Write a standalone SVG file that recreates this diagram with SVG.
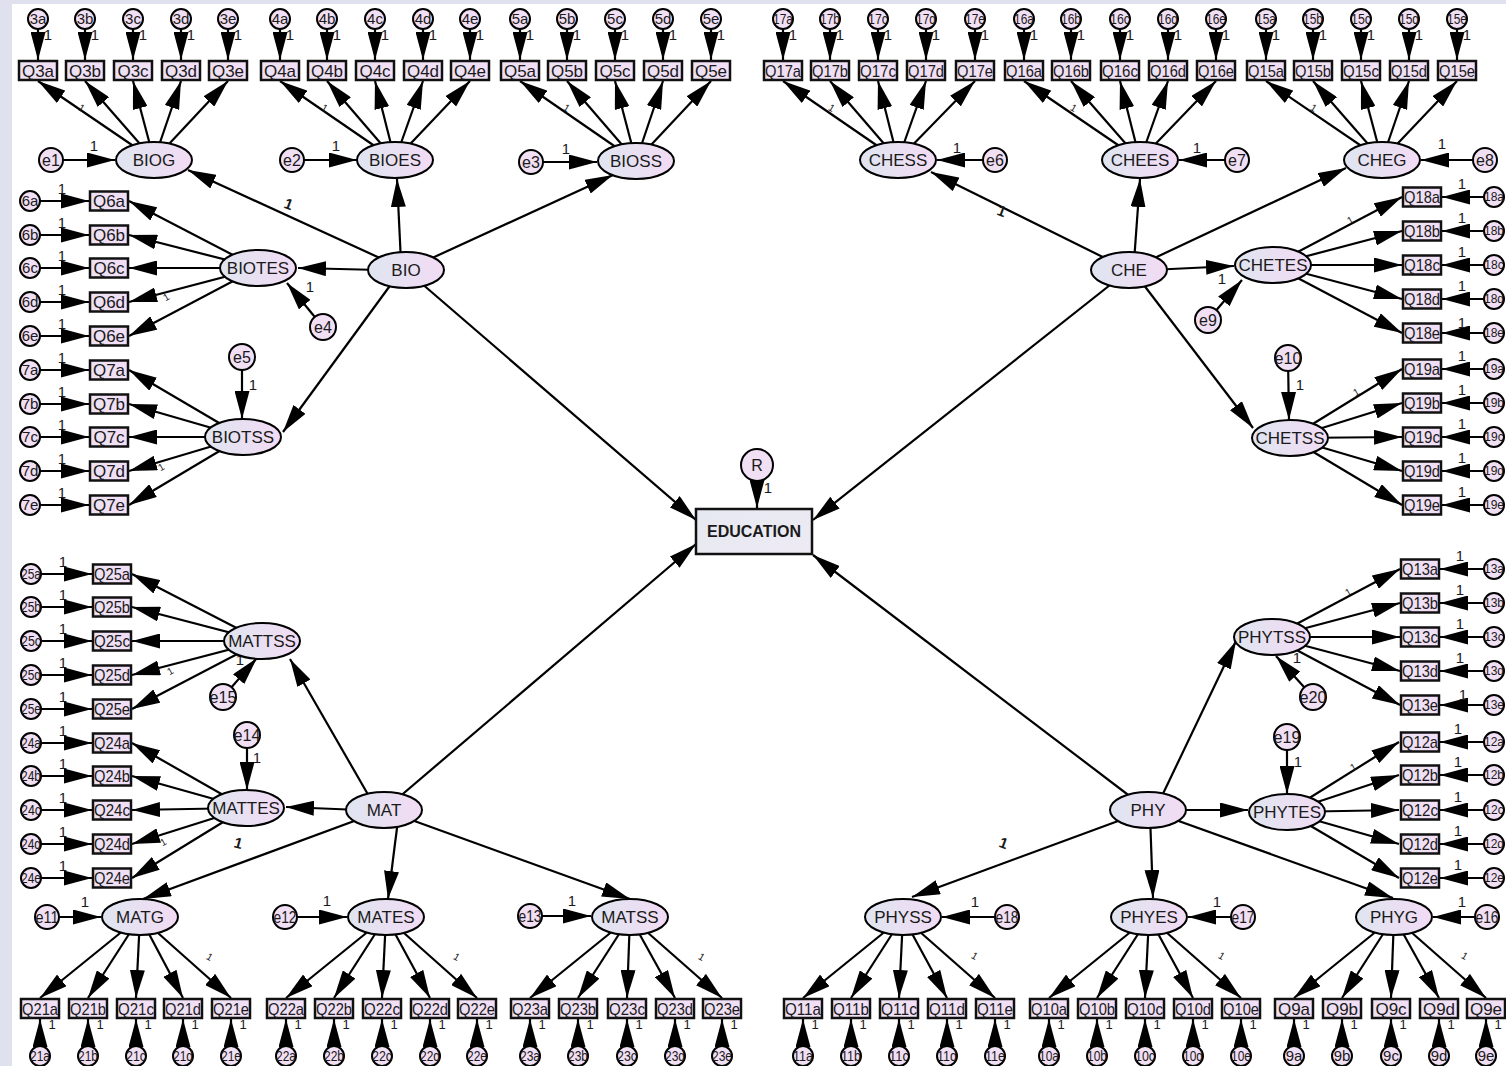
<svg xmlns="http://www.w3.org/2000/svg" width="1506" height="1066" viewBox="0 0 1506 1066">
<defs>
<linearGradient id="gl" x1="0" y1="0" x2="1" y2="0"><stop offset="0" stop-color="#dfe5f0"/><stop offset="1" stop-color="#f2dbf4"/></linearGradient>
<linearGradient id="gb" x1="0" y1="0" x2="1" y2="0"><stop offset="0" stop-color="#ece2f2"/><stop offset="1" stop-color="#f3def6"/></linearGradient>
<linearGradient id="gE" x1="0" y1="0" x2="1" y2="1"><stop offset="0" stop-color="#e6e9f1"/><stop offset="1" stop-color="#eeeaf4"/></linearGradient>
<marker id="ah" markerUnits="userSpaceOnUse" markerWidth="28" markerHeight="15" viewBox="0 0 28 15" refX="28" refY="7.5" orient="auto"><path d="M0,0L28,7.5L0,15z" fill="#000"/></marker>
</defs>
<style>
.conn line{stroke:#000;stroke-width:2.2;marker-end:url(#ah)}
.lv{fill:url(#gl);stroke:#000;stroke-width:2}
.ob{fill:url(#gb);stroke:#111;stroke-width:2.5}
.er{fill:#f1dff4;stroke:#000;stroke-width:2}
text{font-family:"Liberation Sans",Arial,sans-serif;fill:#1a1a1a}
.lt{font-size:17px;text-anchor:middle}
.bt{font-size:17px;text-anchor:middle}
.et{font-size:15px;text-anchor:middle}
.er12{font-size:12px;text-anchor:middle}
.ee{font-size:16px;text-anchor:middle}
.wm{font-size:15px;text-anchor:middle}
.ws{font-size:13px;text-anchor:middle}
.sw{font-size:10px;text-anchor:middle}
.bw{font-size:15px;font-weight:bold;text-anchor:middle}
</style>
<rect x="0" y="0" width="1506" height="1066" fill="#fff"/>
<rect x="0" y="0" width="12" height="1066" fill="#dfe1ee"/>
<rect x="0" y="0" width="1506" height="4" fill="#dfe1ee"/>

<g id="connectors" class="conn">
<line x1="406" y1="270" x2="696" y2="520"/>
<line x1="1129" y1="270" x2="813" y2="520"/>
<line x1="384" y1="810" x2="696" y2="544"/>
<line x1="1148" y1="810" x2="813" y2="555"/>
<line x1="757" y1="465" x2="757" y2="508"/>
<line x1="406" y1="270" x2="188" y2="170"/>
<line x1="401" y1="262" x2="397" y2="179"/>
<line x1="406" y1="270" x2="613" y2="175"/>
<line x1="380" y1="270" x2="298" y2="268"/>
<line x1="400" y1="272" x2="283" y2="432"/>
<line x1="51" y1="160" x2="115" y2="160"/>
<line x1="292" y1="160" x2="357" y2="160"/>
<line x1="531" y1="162" x2="597" y2="162"/>
<line x1="323" y1="327" x2="287" y2="283"/>
<line x1="242" y1="357" x2="242" y2="419"/>
<line x1="154" y1="160" x2="38" y2="81"/>
<line x1="154" y1="160" x2="85" y2="81"/>
<line x1="154" y1="160" x2="133" y2="81"/>
<line x1="154" y1="160" x2="181" y2="81"/>
<line x1="154" y1="160" x2="228" y2="81"/>
<line x1="395" y1="160" x2="280" y2="81"/>
<line x1="395" y1="160" x2="327" y2="81"/>
<line x1="395" y1="160" x2="375" y2="81"/>
<line x1="395" y1="160" x2="423" y2="81"/>
<line x1="395" y1="160" x2="470" y2="81"/>
<line x1="636" y1="161" x2="520" y2="81"/>
<line x1="636" y1="161" x2="567" y2="81"/>
<line x1="636" y1="161" x2="615" y2="81"/>
<line x1="636" y1="161" x2="663" y2="81"/>
<line x1="636" y1="161" x2="711" y2="81"/>
<line x1="258" y1="268" x2="129" y2="201"/>
<line x1="258" y1="268" x2="129" y2="235"/>
<line x1="258" y1="268" x2="129" y2="268"/>
<line x1="258" y1="268" x2="129" y2="302"/>
<line x1="258" y1="268" x2="129" y2="336"/>
<line x1="243" y1="437" x2="129" y2="370"/>
<line x1="243" y1="437" x2="129" y2="404"/>
<line x1="243" y1="437" x2="129" y2="437"/>
<line x1="243" y1="437" x2="129" y2="471"/>
<line x1="243" y1="437" x2="129" y2="505"/>
<line x1="1129" y1="270" x2="931" y2="172"/>
<line x1="1134" y1="262" x2="1140" y2="179"/>
<line x1="1129" y1="270" x2="1346" y2="168"/>
<line x1="1150" y1="270" x2="1234" y2="266"/>
<line x1="1140" y1="280" x2="1253" y2="428"/>
<line x1="995" y1="160" x2="937" y2="160"/>
<line x1="1237" y1="160" x2="1179" y2="160"/>
<line x1="1485" y1="160" x2="1421" y2="160"/>
<line x1="1208" y1="320" x2="1242" y2="280"/>
<line x1="1288" y1="358" x2="1289" y2="420"/>
<line x1="898" y1="160" x2="783" y2="81"/>
<line x1="898" y1="160" x2="830" y2="81"/>
<line x1="898" y1="160" x2="878" y2="81"/>
<line x1="898" y1="160" x2="926" y2="81"/>
<line x1="898" y1="160" x2="975" y2="81"/>
<line x1="1140" y1="160" x2="1024" y2="81"/>
<line x1="1140" y1="160" x2="1071" y2="81"/>
<line x1="1140" y1="160" x2="1120" y2="81"/>
<line x1="1140" y1="160" x2="1168" y2="81"/>
<line x1="1140" y1="160" x2="1216" y2="81"/>
<line x1="1382" y1="160" x2="1266" y2="81"/>
<line x1="1382" y1="160" x2="1313" y2="81"/>
<line x1="1382" y1="160" x2="1361" y2="81"/>
<line x1="1382" y1="160" x2="1409" y2="81"/>
<line x1="1382" y1="160" x2="1457" y2="81"/>
<line x1="1273" y1="265" x2="1402" y2="197"/>
<line x1="1273" y1="265" x2="1402" y2="231"/>
<line x1="1273" y1="265" x2="1402" y2="265"/>
<line x1="1273" y1="265" x2="1402" y2="299"/>
<line x1="1273" y1="265" x2="1402" y2="333"/>
<line x1="1290" y1="438" x2="1402" y2="369"/>
<line x1="1290" y1="438" x2="1402" y2="403"/>
<line x1="1290" y1="438" x2="1402" y2="437"/>
<line x1="1290" y1="438" x2="1402" y2="471"/>
<line x1="1290" y1="438" x2="1402" y2="505"/>
<line x1="370" y1="798" x2="290" y2="659"/>
<line x1="360" y1="810" x2="286" y2="807"/>
<line x1="384" y1="810" x2="143" y2="899"/>
<line x1="398" y1="820" x2="388" y2="899"/>
<line x1="384" y1="810" x2="630" y2="899"/>
<line x1="223" y1="697" x2="257" y2="658"/>
<line x1="247" y1="735" x2="247" y2="790"/>
<line x1="47" y1="917" x2="101" y2="917"/>
<line x1="285" y1="917" x2="347" y2="917"/>
<line x1="530" y1="916" x2="591" y2="916"/>
<line x1="262" y1="641" x2="132" y2="574"/>
<line x1="262" y1="641" x2="132" y2="607"/>
<line x1="262" y1="641" x2="132" y2="641"/>
<line x1="262" y1="641" x2="132" y2="675"/>
<line x1="262" y1="641" x2="132" y2="709"/>
<line x1="246" y1="808" x2="132" y2="743"/>
<line x1="246" y1="808" x2="132" y2="776"/>
<line x1="246" y1="808" x2="132" y2="810"/>
<line x1="246" y1="808" x2="132" y2="844"/>
<line x1="246" y1="808" x2="132" y2="878"/>
<line x1="140" y1="917" x2="40" y2="998"/>
<line x1="140" y1="917" x2="88" y2="998"/>
<line x1="140" y1="917" x2="136" y2="998"/>
<line x1="140" y1="917" x2="183" y2="998"/>
<line x1="140" y1="917" x2="231" y2="998"/>
<line x1="386" y1="917" x2="286" y2="998"/>
<line x1="386" y1="917" x2="334" y2="998"/>
<line x1="386" y1="917" x2="382" y2="998"/>
<line x1="386" y1="917" x2="430" y2="998"/>
<line x1="386" y1="917" x2="477" y2="998"/>
<line x1="630" y1="917" x2="530" y2="998"/>
<line x1="630" y1="917" x2="578" y2="998"/>
<line x1="630" y1="917" x2="627" y2="998"/>
<line x1="630" y1="917" x2="675" y2="998"/>
<line x1="630" y1="917" x2="722" y2="998"/>
<line x1="1160" y1="800" x2="1236" y2="641"/>
<line x1="1170" y1="810" x2="1248" y2="810"/>
<line x1="1148" y1="810" x2="912" y2="897"/>
<line x1="1150" y1="815" x2="1153" y2="898"/>
<line x1="1148" y1="810" x2="1393" y2="898"/>
<line x1="1313" y1="697" x2="1276" y2="656"/>
<line x1="1287" y1="737" x2="1287" y2="794"/>
<line x1="1007" y1="917" x2="942" y2="917"/>
<line x1="1243" y1="917" x2="1188" y2="917"/>
<line x1="1487" y1="917" x2="1433" y2="917"/>
<line x1="1272" y1="637" x2="1400" y2="569"/>
<line x1="1272" y1="637" x2="1400" y2="603"/>
<line x1="1272" y1="637" x2="1400" y2="637"/>
<line x1="1272" y1="637" x2="1400" y2="671"/>
<line x1="1272" y1="637" x2="1400" y2="705"/>
<line x1="1287" y1="812" x2="1399" y2="742"/>
<line x1="1287" y1="812" x2="1399" y2="775"/>
<line x1="1287" y1="812" x2="1399" y2="810"/>
<line x1="1287" y1="812" x2="1399" y2="844"/>
<line x1="1287" y1="812" x2="1399" y2="878"/>
<line x1="903" y1="917" x2="803" y2="998"/>
<line x1="903" y1="917" x2="851" y2="998"/>
<line x1="903" y1="917" x2="899" y2="998"/>
<line x1="903" y1="917" x2="947" y2="998"/>
<line x1="903" y1="917" x2="995" y2="998"/>
<line x1="1149" y1="917" x2="1049" y2="998"/>
<line x1="1149" y1="917" x2="1097" y2="998"/>
<line x1="1149" y1="917" x2="1145" y2="998"/>
<line x1="1149" y1="917" x2="1193" y2="998"/>
<line x1="1149" y1="917" x2="1241" y2="998"/>
<line x1="1394" y1="917" x2="1294" y2="998"/>
<line x1="1394" y1="917" x2="1342" y2="998"/>
<line x1="1394" y1="917" x2="1391" y2="998"/>
<line x1="1394" y1="917" x2="1439" y2="998"/>
<line x1="1394" y1="917" x2="1486" y2="998"/>
<line x1="38" y1="19" x2="38" y2="60"/><line x1="85" y1="19" x2="85" y2="60"/><line x1="133" y1="19" x2="133" y2="60"/><line x1="181" y1="19" x2="181" y2="60"/><line x1="228" y1="19" x2="228" y2="60"/>
<line x1="280" y1="19" x2="280" y2="60"/><line x1="327" y1="19" x2="327" y2="60"/><line x1="375" y1="19" x2="375" y2="60"/><line x1="423" y1="19" x2="423" y2="60"/><line x1="470" y1="19" x2="470" y2="60"/>
<line x1="520" y1="19" x2="520" y2="60"/><line x1="567" y1="19" x2="567" y2="60"/><line x1="615" y1="19" x2="615" y2="60"/><line x1="663" y1="19" x2="663" y2="60"/><line x1="711" y1="19" x2="711" y2="60"/>
<line x1="783" y1="19" x2="783" y2="60"/><line x1="830" y1="19" x2="830" y2="60"/><line x1="878" y1="19" x2="878" y2="60"/><line x1="926" y1="19" x2="926" y2="60"/><line x1="975" y1="19" x2="975" y2="60"/>
<line x1="1024" y1="19" x2="1024" y2="60"/><line x1="1071" y1="19" x2="1071" y2="60"/><line x1="1120" y1="19" x2="1120" y2="60"/><line x1="1168" y1="19" x2="1168" y2="60"/><line x1="1216" y1="19" x2="1216" y2="60"/>
<line x1="1266" y1="19" x2="1266" y2="60"/><line x1="1313" y1="19" x2="1313" y2="60"/><line x1="1361" y1="19" x2="1361" y2="60"/><line x1="1409" y1="19" x2="1409" y2="60"/><line x1="1457" y1="19" x2="1457" y2="60"/>
<line x1="40" y1="1056" x2="40" y2="1019"/><line x1="88" y1="1056" x2="88" y2="1019"/><line x1="136" y1="1056" x2="136" y2="1019"/><line x1="183" y1="1056" x2="183" y2="1019"/><line x1="231" y1="1056" x2="231" y2="1019"/>
<line x1="286" y1="1056" x2="286" y2="1019"/><line x1="334" y1="1056" x2="334" y2="1019"/><line x1="382" y1="1056" x2="382" y2="1019"/><line x1="430" y1="1056" x2="430" y2="1019"/><line x1="477" y1="1056" x2="477" y2="1019"/>
<line x1="530" y1="1056" x2="530" y2="1019"/><line x1="578" y1="1056" x2="578" y2="1019"/><line x1="627" y1="1056" x2="627" y2="1019"/><line x1="675" y1="1056" x2="675" y2="1019"/><line x1="722" y1="1056" x2="722" y2="1019"/>
<line x1="803" y1="1056" x2="803" y2="1019"/><line x1="851" y1="1056" x2="851" y2="1019"/><line x1="899" y1="1056" x2="899" y2="1019"/><line x1="947" y1="1056" x2="947" y2="1019"/><line x1="995" y1="1056" x2="995" y2="1019"/>
<line x1="1049" y1="1056" x2="1049" y2="1019"/><line x1="1097" y1="1056" x2="1097" y2="1019"/><line x1="1145" y1="1056" x2="1145" y2="1019"/><line x1="1193" y1="1056" x2="1193" y2="1019"/><line x1="1241" y1="1056" x2="1241" y2="1019"/>
<line x1="1294" y1="1056" x2="1294" y2="1019"/><line x1="1342" y1="1056" x2="1342" y2="1019"/><line x1="1391" y1="1056" x2="1391" y2="1019"/><line x1="1439" y1="1056" x2="1439" y2="1019"/><line x1="1486" y1="1056" x2="1486" y2="1019"/>
<line x1="30" y1="201" x2="89" y2="201"/><line x1="30" y1="235" x2="89" y2="235"/><line x1="30" y1="268" x2="89" y2="268"/><line x1="30" y1="302" x2="89" y2="302"/><line x1="30" y1="336" x2="89" y2="336"/>
<line x1="30" y1="370" x2="89" y2="370"/><line x1="30" y1="404" x2="89" y2="404"/><line x1="30" y1="437" x2="89" y2="437"/><line x1="30" y1="471" x2="89" y2="471"/><line x1="30" y1="505" x2="89" y2="505"/>
<line x1="31" y1="574" x2="92" y2="574"/><line x1="31" y1="607" x2="92" y2="607"/><line x1="31" y1="641" x2="92" y2="641"/><line x1="31" y1="675" x2="92" y2="675"/><line x1="31" y1="709" x2="92" y2="709"/>
<line x1="31" y1="743" x2="92" y2="743"/><line x1="31" y1="776" x2="92" y2="776"/><line x1="31" y1="810" x2="92" y2="810"/><line x1="31" y1="844" x2="92" y2="844"/><line x1="31" y1="878" x2="92" y2="878"/>
<line x1="1494" y1="197" x2="1442" y2="197"/><line x1="1494" y1="231" x2="1442" y2="231"/><line x1="1494" y1="265" x2="1442" y2="265"/><line x1="1494" y1="299" x2="1442" y2="299"/><line x1="1494" y1="333" x2="1442" y2="333"/>
<line x1="1494" y1="369" x2="1442" y2="369"/><line x1="1494" y1="403" x2="1442" y2="403"/><line x1="1494" y1="437" x2="1442" y2="437"/><line x1="1494" y1="471" x2="1442" y2="471"/><line x1="1494" y1="505" x2="1442" y2="505"/>
<line x1="1494" y1="569" x2="1440" y2="569"/><line x1="1494" y1="603" x2="1440" y2="603"/><line x1="1494" y1="637" x2="1440" y2="637"/><line x1="1494" y1="671" x2="1440" y2="671"/><line x1="1494" y1="705" x2="1440" y2="705"/>
<line x1="1494" y1="742" x2="1440" y2="742"/><line x1="1494" y1="775" x2="1440" y2="775"/><line x1="1494" y1="810" x2="1440" y2="810"/><line x1="1494" y1="844" x2="1440" y2="844"/><line x1="1494" y1="878" x2="1440" y2="878"/>
</g>

<g id="connector-labels">
<text class="wm" x="768" y="493">1</text>
<text class="wm" x="94" y="151">1</text><text class="wm" x="336" y="151">1</text><text class="wm" x="566" y="154">1</text>
<text class="wm" x="310" y="292">1</text><text class="wm" x="253" y="390">1</text>
<text class="wm" x="957" y="153">1</text><text class="wm" x="1197" y="153">1</text><text class="wm" x="1442" y="149">1</text>
<text class="wm" x="1222" y="284">1</text><text class="wm" x="1300" y="390">1</text>
<text class="wm" x="85" y="907">1</text><text class="wm" x="327" y="906">1</text><text class="wm" x="572" y="906">1</text>
<text class="wm" x="240" y="665">1</text><text class="wm" x="257" y="763">1</text>
<text class="wm" x="975" y="907">1</text><text class="wm" x="1217" y="907">1</text><text class="wm" x="1462" y="907">1</text>
<text class="wm" x="1297" y="663">1</text><text class="wm" x="1298" y="767">1</text>
<text class="bw" transform="translate(287,209) rotate(20)">1</text>
<text class="bw" transform="translate(1000,216) rotate(20)">1</text>
<text class="bw" transform="translate(237,848) rotate(15)">1</text>
<text class="bw" transform="translate(1002,848) rotate(20)">1</text>
<g class="wm">
<text x="48" y="40">1</text><text x="95" y="40">1</text><text x="143" y="40">1</text><text x="191" y="40">1</text><text x="238" y="40">1</text>
<text x="290" y="40">1</text><text x="337" y="40">1</text><text x="385" y="40">1</text><text x="433" y="40">1</text><text x="480" y="40">1</text>
<text x="530" y="40">1</text><text x="577" y="40">1</text><text x="625" y="40">1</text><text x="673" y="40">1</text><text x="721" y="40">1</text>
<text x="793" y="40">1</text><text x="840" y="40">1</text><text x="888" y="40">1</text><text x="936" y="40">1</text><text x="985" y="40">1</text>
<text x="1034" y="40">1</text><text x="1081" y="40">1</text><text x="1130" y="40">1</text><text x="1178" y="40">1</text><text x="1226" y="40">1</text>
<text x="1276" y="40">1</text><text x="1323" y="40">1</text><text x="1371" y="40">1</text><text x="1419" y="40">1</text><text x="1467" y="40">1</text>
<text x="62" y="194">1</text><text x="62" y="228">1</text><text x="62" y="261">1</text><text x="62" y="295">1</text><text x="62" y="329">1</text>
<text x="62" y="363">1</text><text x="62" y="397">1</text><text x="62" y="430">1</text><text x="62" y="464">1</text><text x="62" y="498">1</text>
<text x="63" y="567">1</text><text x="63" y="600">1</text><text x="63" y="634">1</text><text x="63" y="668">1</text><text x="63" y="702">1</text>
<text x="63" y="736">1</text><text x="63" y="769">1</text><text x="63" y="803">1</text><text x="63" y="837">1</text><text x="63" y="871">1</text>
<text x="1462" y="189">1</text><text x="1462" y="223">1</text><text x="1462" y="257">1</text><text x="1462" y="291">1</text><text x="1462" y="328">1</text>
<text x="1462" y="361">1</text><text x="1462" y="395">1</text><text x="1462" y="429">1</text><text x="1462" y="463">1</text><text x="1462" y="497">1</text>
<text x="1460" y="561">1</text><text x="1460" y="595">1</text><text x="1460" y="629">1</text><text x="1460" y="663">1</text><text x="1463" y="700">1</text>
<text x="1458" y="734">1</text><text x="1458" y="767">1</text><text x="1458" y="802">1</text><text x="1458" y="836">1</text><text x="1458" y="870">1</text>
</g>
<g class="ws">
<text x="52" y="1029">1</text><text x="100" y="1029">1</text><text x="148" y="1029">1</text><text x="195" y="1029">1</text><text x="243" y="1029">1</text>
<text x="298" y="1029">1</text><text x="346" y="1029">1</text><text x="394" y="1029">1</text><text x="442" y="1029">1</text><text x="489" y="1029">1</text>
<text x="542" y="1029">1</text><text x="590" y="1029">1</text><text x="639" y="1029">1</text><text x="687" y="1029">1</text><text x="734" y="1029">1</text>
<text x="815" y="1029">1</text><text x="863" y="1029">1</text><text x="911" y="1029">1</text><text x="959" y="1029">1</text><text x="1007" y="1029">1</text>
<text x="1061" y="1029">1</text><text x="1109" y="1029">1</text><text x="1157" y="1029">1</text><text x="1205" y="1029">1</text><text x="1253" y="1029">1</text>
<text x="1306" y="1029">1</text><text x="1354" y="1029">1</text><text x="1403" y="1029">1</text><text x="1451" y="1029">1</text><text x="1498" y="1029">1</text>
</g>
<g class="sw">
<text transform="translate(80,111) rotate(30)">1</text>
<text transform="translate(323,111) rotate(30)">1</text>
<text transform="translate(565,111) rotate(30)">1</text>
<text transform="translate(830,111) rotate(30)">1</text>
<text transform="translate(1072,111) rotate(30)">1</text>
<text transform="translate(1312,111) rotate(30)">1</text>
<text transform="translate(168,300) rotate(-30)">1</text>
<text transform="translate(163,470) rotate(-30)">1</text>
<text transform="translate(172,674) rotate(-30)">1</text>
<text transform="translate(165,845) rotate(-30)">1</text>
<text transform="translate(1352,223) rotate(-30)">1</text>
<text transform="translate(1358,395) rotate(-30)">1</text>
<text transform="translate(1350,595) rotate(-30)">1</text>
<text transform="translate(1355,770) rotate(-30)">1</text>
<text transform="translate(208,960) rotate(30)">1</text>
<text transform="translate(455,960) rotate(30)">1</text>
<text transform="translate(700,960) rotate(30)">1</text>
<text transform="translate(973,959) rotate(30)">1</text>
<text transform="translate(1220,959) rotate(30)">1</text>
<text transform="translate(1463,959) rotate(30)">1</text>
</g>
</g>

<g id="EDUCATION"><rect x="696" y="509" width="116" height="45" fill="url(#gE)" stroke="#111" stroke-width="2.5"/><text x="754" y="537" font-size="16" font-weight="bold" text-anchor="middle">EDUCATION</text></g>
<g id="R"><circle class="er" cx="757" cy="465" r="16"/><text class="ee" x="757" y="471">R</text></g>

<g id="BIO"><ellipse class="lv" cx="406" cy="270" rx="38" ry="18"/><text class="lt" x="406" y="276">BIO</text></g>
<g id="CHE"><ellipse class="lv" cx="1129" cy="270" rx="38" ry="18"/><text class="lt" x="1129" y="276">CHE</text></g>
<g id="MAT"><ellipse class="lv" cx="384" cy="810" rx="38" ry="18"/><text class="lt" x="384" y="816">MAT</text></g>
<g id="PHY"><ellipse class="lv" cx="1148" cy="810" rx="38" ry="18"/><text class="lt" x="1148" y="816">PHY</text></g>
<g id="BIOG"><ellipse class="lv" cx="154" cy="160" rx="38" ry="18"/><text class="lt" x="154" y="166">BIOG</text></g>
<g id="BIOES"><ellipse class="lv" cx="395" cy="160" rx="38" ry="18"/><text class="lt" x="395" y="166">BIOES</text></g>
<g id="BIOSS"><ellipse class="lv" cx="636" cy="161" rx="38" ry="18"/><text class="lt" x="636" y="167">BIOSS</text></g>
<g id="BIOTES"><ellipse class="lv" cx="258" cy="268" rx="38" ry="18"/><text class="lt" x="258" y="274">BIOTES</text></g>
<g id="BIOTSS"><ellipse class="lv" cx="243" cy="437" rx="38" ry="18"/><text class="lt" x="243" y="443">BIOTSS</text></g>
<g id="CHESS"><ellipse class="lv" cx="898" cy="160" rx="38" ry="18"/><text class="lt" x="898" y="166">CHESS</text></g>
<g id="CHEES"><ellipse class="lv" cx="1140" cy="160" rx="38" ry="18"/><text class="lt" x="1140" y="166">CHEES</text></g>
<g id="CHEG"><ellipse class="lv" cx="1382" cy="160" rx="38" ry="18"/><text class="lt" x="1382" y="166">CHEG</text></g>
<g id="CHETES"><ellipse class="lv" cx="1273" cy="265" rx="38" ry="18"/><text class="lt" x="1273" y="271">CHETES</text></g>
<g id="CHETSS"><ellipse class="lv" cx="1290" cy="438" rx="38" ry="18"/><text class="lt" x="1290" y="444">CHETSS</text></g>
<g id="MATTSS"><ellipse class="lv" cx="262" cy="641" rx="38" ry="18"/><text class="lt" x="262" y="647">MATTSS</text></g>
<g id="MATTES"><ellipse class="lv" cx="246" cy="808" rx="38" ry="18"/><text class="lt" x="246" y="814">MATTES</text></g>
<g id="MATG"><ellipse class="lv" cx="140" cy="917" rx="38" ry="18"/><text class="lt" x="140" y="923">MATG</text></g>
<g id="MATES"><ellipse class="lv" cx="386" cy="917" rx="38" ry="18"/><text class="lt" x="386" y="923">MATES</text></g>
<g id="MATSS"><ellipse class="lv" cx="630" cy="917" rx="38" ry="18"/><text class="lt" x="630" y="923">MATSS</text></g>
<g id="PHYTSS"><ellipse class="lv" cx="1272" cy="637" rx="38" ry="18"/><text class="lt" x="1272" y="643">PHYTSS</text></g>
<g id="PHYTES"><ellipse class="lv" cx="1287" cy="812" rx="38" ry="18"/><text class="lt" x="1287" y="818">PHYTES</text></g>
<g id="PHYSS"><ellipse class="lv" cx="903" cy="917" rx="38" ry="18"/><text class="lt" x="903" y="923">PHYSS</text></g>
<g id="PHYES"><ellipse class="lv" cx="1149" cy="917" rx="38" ry="18"/><text class="lt" x="1149" y="923">PHYES</text></g>
<g id="PHYG"><ellipse class="lv" cx="1394" cy="917" rx="38" ry="18"/><text class="lt" x="1394" y="923">PHYG</text></g>

<g id="e1"><circle class="er" cx="51" cy="160" r="12"/><text class="ee" x="51" y="166">e1</text></g>
<g id="e2"><circle class="er" cx="292" cy="160" r="12"/><text class="ee" x="292" y="166">e2</text></g>
<g id="e3"><circle class="er" cx="531" cy="162" r="12"/><text class="ee" x="531" y="168">e3</text></g>
<g id="e4"><circle class="er" cx="323" cy="327" r="13"/><text class="ee" x="323" y="333">e4</text></g>
<g id="e5"><circle class="er" cx="242" cy="357" r="13"/><text class="ee" x="242" y="363">e5</text></g>
<g id="e6"><circle class="er" cx="995" cy="160" r="12"/><text class="ee" x="995" y="166">e6</text></g>
<g id="e7"><circle class="er" cx="1237" cy="160" r="12"/><text class="ee" x="1237" y="166">e7</text></g>
<g id="e8"><circle class="er" cx="1485" cy="160" r="12"/><text class="ee" x="1485" y="166">e8</text></g>
<g id="e9"><circle class="er" cx="1208" cy="320" r="13"/><text class="ee" x="1208" y="326">e9</text></g>
<g id="e10"><circle class="er" cx="1288" cy="358" r="13"/><text class="ee" x="1288" y="364" textLength="27" lengthAdjust="spacingAndGlyphs">e10</text></g>
<g id="e11"><circle class="er" cx="47" cy="917" r="12"/><text class="ee" x="47" y="923" textLength="23" lengthAdjust="spacingAndGlyphs">e11</text></g>
<g id="e12"><circle class="er" cx="285" cy="917" r="12"/><text class="ee" x="285" y="923" textLength="23" lengthAdjust="spacingAndGlyphs">e12</text></g>
<g id="e13"><circle class="er" cx="530" cy="916" r="12"/><text class="ee" x="530" y="922" textLength="23" lengthAdjust="spacingAndGlyphs">e13</text></g>
<g id="e14"><circle class="er" cx="247" cy="735" r="13"/><text class="ee" x="247" y="741" textLength="27" lengthAdjust="spacingAndGlyphs">e14</text></g>
<g id="e15"><circle class="er" cx="223" cy="697" r="13"/><text class="ee" x="223" y="703" textLength="27" lengthAdjust="spacingAndGlyphs">e15</text></g>
<g id="e16"><circle class="er" cx="1487" cy="917" r="12"/><text class="ee" x="1487" y="923" textLength="23" lengthAdjust="spacingAndGlyphs">e16</text></g>
<g id="e17"><circle class="er" cx="1243" cy="917" r="12"/><text class="ee" x="1243" y="923" textLength="23" lengthAdjust="spacingAndGlyphs">e17</text></g>
<g id="e18"><circle class="er" cx="1007" cy="917" r="12"/><text class="ee" x="1007" y="923" textLength="23" lengthAdjust="spacingAndGlyphs">e18</text></g>
<g id="e19"><circle class="er" cx="1287" cy="737" r="13"/><text class="ee" x="1287" y="743" textLength="27" lengthAdjust="spacingAndGlyphs">e19</text></g>
<g id="e20"><circle class="er" cx="1313" cy="697" r="13"/><text class="ee" x="1313" y="703" textLength="27" lengthAdjust="spacingAndGlyphs">e20</text></g>

<g id="Q3a"><rect class="ob" x="19" y="61" width="38" height="19"/><text class="bt" x="38" y="77">Q3a</text></g>
<g id="Q3b"><rect class="ob" x="66" y="61" width="38" height="19"/><text class="bt" x="85" y="77">Q3b</text></g>
<g id="Q3c"><rect class="ob" x="114" y="61" width="38" height="19"/><text class="bt" x="133" y="77">Q3c</text></g>
<g id="Q3d"><rect class="ob" x="162" y="61" width="38" height="19"/><text class="bt" x="181" y="77">Q3d</text></g>
<g id="Q3e"><rect class="ob" x="209" y="61" width="38" height="19"/><text class="bt" x="228" y="77">Q3e</text></g>
<g id="Q4a"><rect class="ob" x="261" y="61" width="38" height="19"/><text class="bt" x="280" y="77">Q4a</text></g>
<g id="Q4b"><rect class="ob" x="308" y="61" width="38" height="19"/><text class="bt" x="327" y="77">Q4b</text></g>
<g id="Q4c"><rect class="ob" x="356" y="61" width="38" height="19"/><text class="bt" x="375" y="77">Q4c</text></g>
<g id="Q4d"><rect class="ob" x="404" y="61" width="38" height="19"/><text class="bt" x="423" y="77">Q4d</text></g>
<g id="Q4e"><rect class="ob" x="451" y="61" width="38" height="19"/><text class="bt" x="470" y="77">Q4e</text></g>
<g id="Q5a"><rect class="ob" x="501" y="61" width="38" height="19"/><text class="bt" x="520" y="77">Q5a</text></g>
<g id="Q5b"><rect class="ob" x="548" y="61" width="38" height="19"/><text class="bt" x="567" y="77">Q5b</text></g>
<g id="Q5c"><rect class="ob" x="596" y="61" width="38" height="19"/><text class="bt" x="615" y="77">Q5c</text></g>
<g id="Q5d"><rect class="ob" x="644" y="61" width="38" height="19"/><text class="bt" x="663" y="77">Q5d</text></g>
<g id="Q5e"><rect class="ob" x="692" y="61" width="38" height="19"/><text class="bt" x="711" y="77">Q5e</text></g>
<g id="Q17a"><rect class="ob" x="764" y="61" width="38" height="19"/><text class="bt" x="783" y="77" textLength="36" lengthAdjust="spacingAndGlyphs">Q17a</text></g>
<g id="Q17b"><rect class="ob" x="811" y="61" width="38" height="19"/><text class="bt" x="830" y="77" textLength="36" lengthAdjust="spacingAndGlyphs">Q17b</text></g>
<g id="Q17c"><rect class="ob" x="859" y="61" width="38" height="19"/><text class="bt" x="878" y="77" textLength="36" lengthAdjust="spacingAndGlyphs">Q17c</text></g>
<g id="Q17d"><rect class="ob" x="907" y="61" width="38" height="19"/><text class="bt" x="926" y="77" textLength="36" lengthAdjust="spacingAndGlyphs">Q17d</text></g>
<g id="Q17e"><rect class="ob" x="956" y="61" width="38" height="19"/><text class="bt" x="975" y="77" textLength="36" lengthAdjust="spacingAndGlyphs">Q17e</text></g>
<g id="Q16a"><rect class="ob" x="1005" y="61" width="38" height="19"/><text class="bt" x="1024" y="77" textLength="36" lengthAdjust="spacingAndGlyphs">Q16a</text></g>
<g id="Q16b"><rect class="ob" x="1052" y="61" width="38" height="19"/><text class="bt" x="1071" y="77" textLength="36" lengthAdjust="spacingAndGlyphs">Q16b</text></g>
<g id="Q16c"><rect class="ob" x="1101" y="61" width="38" height="19"/><text class="bt" x="1120" y="77" textLength="36" lengthAdjust="spacingAndGlyphs">Q16c</text></g>
<g id="Q16d"><rect class="ob" x="1149" y="61" width="38" height="19"/><text class="bt" x="1168" y="77" textLength="36" lengthAdjust="spacingAndGlyphs">Q16d</text></g>
<g id="Q16e"><rect class="ob" x="1197" y="61" width="38" height="19"/><text class="bt" x="1216" y="77" textLength="36" lengthAdjust="spacingAndGlyphs">Q16e</text></g>
<g id="Q15a"><rect class="ob" x="1247" y="61" width="38" height="19"/><text class="bt" x="1266" y="77" textLength="36" lengthAdjust="spacingAndGlyphs">Q15a</text></g>
<g id="Q15b"><rect class="ob" x="1294" y="61" width="38" height="19"/><text class="bt" x="1313" y="77" textLength="36" lengthAdjust="spacingAndGlyphs">Q15b</text></g>
<g id="Q15c"><rect class="ob" x="1342" y="61" width="38" height="19"/><text class="bt" x="1361" y="77" textLength="36" lengthAdjust="spacingAndGlyphs">Q15c</text></g>
<g id="Q15d"><rect class="ob" x="1390" y="61" width="38" height="19"/><text class="bt" x="1409" y="77" textLength="36" lengthAdjust="spacingAndGlyphs">Q15d</text></g>
<g id="Q15e"><rect class="ob" x="1438" y="61" width="38" height="19"/><text class="bt" x="1457" y="77" textLength="36" lengthAdjust="spacingAndGlyphs">Q15e</text></g>

<g id="Q21a"><rect class="ob" x="21" y="999" width="38" height="19"/><text class="bt" x="40" y="1015" textLength="36" lengthAdjust="spacingAndGlyphs">Q21a</text></g>
<g id="Q21b"><rect class="ob" x="69" y="999" width="38" height="19"/><text class="bt" x="88" y="1015" textLength="36" lengthAdjust="spacingAndGlyphs">Q21b</text></g>
<g id="Q21c"><rect class="ob" x="117" y="999" width="38" height="19"/><text class="bt" x="136" y="1015" textLength="36" lengthAdjust="spacingAndGlyphs">Q21c</text></g>
<g id="Q21d"><rect class="ob" x="164" y="999" width="38" height="19"/><text class="bt" x="183" y="1015" textLength="36" lengthAdjust="spacingAndGlyphs">Q21d</text></g>
<g id="Q21e"><rect class="ob" x="212" y="999" width="38" height="19"/><text class="bt" x="231" y="1015" textLength="36" lengthAdjust="spacingAndGlyphs">Q21e</text></g>
<g id="Q22a"><rect class="ob" x="267" y="999" width="38" height="19"/><text class="bt" x="286" y="1015" textLength="36" lengthAdjust="spacingAndGlyphs">Q22a</text></g>
<g id="Q22b"><rect class="ob" x="315" y="999" width="38" height="19"/><text class="bt" x="334" y="1015" textLength="36" lengthAdjust="spacingAndGlyphs">Q22b</text></g>
<g id="Q22c"><rect class="ob" x="363" y="999" width="38" height="19"/><text class="bt" x="382" y="1015" textLength="36" lengthAdjust="spacingAndGlyphs">Q22c</text></g>
<g id="Q22d"><rect class="ob" x="411" y="999" width="38" height="19"/><text class="bt" x="430" y="1015" textLength="36" lengthAdjust="spacingAndGlyphs">Q22d</text></g>
<g id="Q22e"><rect class="ob" x="458" y="999" width="38" height="19"/><text class="bt" x="477" y="1015" textLength="36" lengthAdjust="spacingAndGlyphs">Q22e</text></g>
<g id="Q23a"><rect class="ob" x="511" y="999" width="38" height="19"/><text class="bt" x="530" y="1015" textLength="36" lengthAdjust="spacingAndGlyphs">Q23a</text></g>
<g id="Q23b"><rect class="ob" x="559" y="999" width="38" height="19"/><text class="bt" x="578" y="1015" textLength="36" lengthAdjust="spacingAndGlyphs">Q23b</text></g>
<g id="Q23c"><rect class="ob" x="608" y="999" width="38" height="19"/><text class="bt" x="627" y="1015" textLength="36" lengthAdjust="spacingAndGlyphs">Q23c</text></g>
<g id="Q23d"><rect class="ob" x="656" y="999" width="38" height="19"/><text class="bt" x="675" y="1015" textLength="36" lengthAdjust="spacingAndGlyphs">Q23d</text></g>
<g id="Q23e"><rect class="ob" x="703" y="999" width="38" height="19"/><text class="bt" x="722" y="1015" textLength="36" lengthAdjust="spacingAndGlyphs">Q23e</text></g>
<g id="Q11a"><rect class="ob" x="784" y="999" width="38" height="19"/><text class="bt" x="803" y="1015" textLength="36" lengthAdjust="spacingAndGlyphs">Q11a</text></g>
<g id="Q11b"><rect class="ob" x="832" y="999" width="38" height="19"/><text class="bt" x="851" y="1015" textLength="36" lengthAdjust="spacingAndGlyphs">Q11b</text></g>
<g id="Q11c"><rect class="ob" x="880" y="999" width="38" height="19"/><text class="bt" x="899" y="1015" textLength="36" lengthAdjust="spacingAndGlyphs">Q11c</text></g>
<g id="Q11d"><rect class="ob" x="928" y="999" width="38" height="19"/><text class="bt" x="947" y="1015" textLength="36" lengthAdjust="spacingAndGlyphs">Q11d</text></g>
<g id="Q11e"><rect class="ob" x="976" y="999" width="38" height="19"/><text class="bt" x="995" y="1015" textLength="36" lengthAdjust="spacingAndGlyphs">Q11e</text></g>
<g id="Q10a"><rect class="ob" x="1030" y="999" width="38" height="19"/><text class="bt" x="1049" y="1015" textLength="36" lengthAdjust="spacingAndGlyphs">Q10a</text></g>
<g id="Q10b"><rect class="ob" x="1078" y="999" width="38" height="19"/><text class="bt" x="1097" y="1015" textLength="36" lengthAdjust="spacingAndGlyphs">Q10b</text></g>
<g id="Q10c"><rect class="ob" x="1126" y="999" width="38" height="19"/><text class="bt" x="1145" y="1015" textLength="36" lengthAdjust="spacingAndGlyphs">Q10c</text></g>
<g id="Q10d"><rect class="ob" x="1174" y="999" width="38" height="19"/><text class="bt" x="1193" y="1015" textLength="36" lengthAdjust="spacingAndGlyphs">Q10d</text></g>
<g id="Q10e"><rect class="ob" x="1222" y="999" width="38" height="19"/><text class="bt" x="1241" y="1015" textLength="36" lengthAdjust="spacingAndGlyphs">Q10e</text></g>
<g id="Q9a"><rect class="ob" x="1275" y="999" width="38" height="19"/><text class="bt" x="1294" y="1015">Q9a</text></g>
<g id="Q9b"><rect class="ob" x="1323" y="999" width="38" height="19"/><text class="bt" x="1342" y="1015">Q9b</text></g>
<g id="Q9c"><rect class="ob" x="1372" y="999" width="38" height="19"/><text class="bt" x="1391" y="1015">Q9c</text></g>
<g id="Q9d"><rect class="ob" x="1420" y="999" width="38" height="19"/><text class="bt" x="1439" y="1015">Q9d</text></g>
<g id="Q9e"><rect class="ob" x="1467" y="999" width="38" height="19"/><text class="bt" x="1486" y="1015">Q9e</text></g>

<g id="Q6a"><rect class="ob" x="90" y="191.5" width="38" height="19"/><text class="bt" x="109" y="207">Q6a</text></g>
<g id="Q6b"><rect class="ob" x="90" y="225.5" width="38" height="19"/><text class="bt" x="109" y="241">Q6b</text></g>
<g id="Q6c"><rect class="ob" x="90" y="258.5" width="38" height="19"/><text class="bt" x="109" y="274">Q6c</text></g>
<g id="Q6d"><rect class="ob" x="90" y="292.5" width="38" height="19"/><text class="bt" x="109" y="308">Q6d</text></g>
<g id="Q6e"><rect class="ob" x="90" y="326.5" width="38" height="19"/><text class="bt" x="109" y="342">Q6e</text></g>
<g id="Q7a"><rect class="ob" x="90" y="360.5" width="38" height="19"/><text class="bt" x="109" y="376">Q7a</text></g>
<g id="Q7b"><rect class="ob" x="90" y="394.5" width="38" height="19"/><text class="bt" x="109" y="410">Q7b</text></g>
<g id="Q7c"><rect class="ob" x="90" y="427.5" width="38" height="19"/><text class="bt" x="109" y="443">Q7c</text></g>
<g id="Q7d"><rect class="ob" x="90" y="461.5" width="38" height="19"/><text class="bt" x="109" y="477">Q7d</text></g>
<g id="Q7e"><rect class="ob" x="90" y="495.5" width="38" height="19"/><text class="bt" x="109" y="511">Q7e</text></g>
<g id="Q25a"><rect class="ob" x="93" y="564.5" width="38" height="19"/><text class="bt" x="112" y="580" textLength="36" lengthAdjust="spacingAndGlyphs">Q25a</text></g>
<g id="Q25b"><rect class="ob" x="93" y="597.5" width="38" height="19"/><text class="bt" x="112" y="613" textLength="36" lengthAdjust="spacingAndGlyphs">Q25b</text></g>
<g id="Q25c"><rect class="ob" x="93" y="631.5" width="38" height="19"/><text class="bt" x="112" y="647" textLength="36" lengthAdjust="spacingAndGlyphs">Q25c</text></g>
<g id="Q25d"><rect class="ob" x="93" y="665.5" width="38" height="19"/><text class="bt" x="112" y="681" textLength="36" lengthAdjust="spacingAndGlyphs">Q25d</text></g>
<g id="Q25e"><rect class="ob" x="93" y="699.5" width="38" height="19"/><text class="bt" x="112" y="715" textLength="36" lengthAdjust="spacingAndGlyphs">Q25e</text></g>
<g id="Q24a"><rect class="ob" x="93" y="733.5" width="38" height="19"/><text class="bt" x="112" y="749" textLength="36" lengthAdjust="spacingAndGlyphs">Q24a</text></g>
<g id="Q24b"><rect class="ob" x="93" y="766.5" width="38" height="19"/><text class="bt" x="112" y="782" textLength="36" lengthAdjust="spacingAndGlyphs">Q24b</text></g>
<g id="Q24c"><rect class="ob" x="93" y="800.5" width="38" height="19"/><text class="bt" x="112" y="816" textLength="36" lengthAdjust="spacingAndGlyphs">Q24c</text></g>
<g id="Q24d"><rect class="ob" x="93" y="834.5" width="38" height="19"/><text class="bt" x="112" y="850" textLength="36" lengthAdjust="spacingAndGlyphs">Q24d</text></g>
<g id="Q24e"><rect class="ob" x="93" y="868.5" width="38" height="19"/><text class="bt" x="112" y="884" textLength="36" lengthAdjust="spacingAndGlyphs">Q24e</text></g>

<g id="Q18a"><rect class="ob" x="1403" y="187.5" width="38" height="19"/><text class="bt" x="1422" y="203" textLength="36" lengthAdjust="spacingAndGlyphs">Q18a</text></g>
<g id="Q18b"><rect class="ob" x="1403" y="221.5" width="38" height="19"/><text class="bt" x="1422" y="237" textLength="36" lengthAdjust="spacingAndGlyphs">Q18b</text></g>
<g id="Q18c"><rect class="ob" x="1403" y="255.5" width="38" height="19"/><text class="bt" x="1422" y="271" textLength="36" lengthAdjust="spacingAndGlyphs">Q18c</text></g>
<g id="Q18d"><rect class="ob" x="1403" y="289.5" width="38" height="19"/><text class="bt" x="1422" y="305" textLength="36" lengthAdjust="spacingAndGlyphs">Q18d</text></g>
<g id="Q18e"><rect class="ob" x="1403" y="323.5" width="38" height="19"/><text class="bt" x="1422" y="339" textLength="36" lengthAdjust="spacingAndGlyphs">Q18e</text></g>
<g id="Q19a"><rect class="ob" x="1403" y="359.5" width="38" height="19"/><text class="bt" x="1422" y="375" textLength="36" lengthAdjust="spacingAndGlyphs">Q19a</text></g>
<g id="Q19b"><rect class="ob" x="1403" y="393.5" width="38" height="19"/><text class="bt" x="1422" y="409" textLength="36" lengthAdjust="spacingAndGlyphs">Q19b</text></g>
<g id="Q19c"><rect class="ob" x="1403" y="427.5" width="38" height="19"/><text class="bt" x="1422" y="443" textLength="36" lengthAdjust="spacingAndGlyphs">Q19c</text></g>
<g id="Q19d"><rect class="ob" x="1403" y="461.5" width="38" height="19"/><text class="bt" x="1422" y="477" textLength="36" lengthAdjust="spacingAndGlyphs">Q19d</text></g>
<g id="Q19e"><rect class="ob" x="1403" y="495.5" width="38" height="19"/><text class="bt" x="1422" y="511" textLength="36" lengthAdjust="spacingAndGlyphs">Q19e</text></g>
<g id="Q13a"><rect class="ob" x="1401" y="559.5" width="38" height="19"/><text class="bt" x="1420" y="575" textLength="36" lengthAdjust="spacingAndGlyphs">Q13a</text></g>
<g id="Q13b"><rect class="ob" x="1401" y="593.5" width="38" height="19"/><text class="bt" x="1420" y="609" textLength="36" lengthAdjust="spacingAndGlyphs">Q13b</text></g>
<g id="Q13c"><rect class="ob" x="1401" y="627.5" width="38" height="19"/><text class="bt" x="1420" y="643" textLength="36" lengthAdjust="spacingAndGlyphs">Q13c</text></g>
<g id="Q13d"><rect class="ob" x="1401" y="661.5" width="38" height="19"/><text class="bt" x="1420" y="677" textLength="36" lengthAdjust="spacingAndGlyphs">Q13d</text></g>
<g id="Q13e"><rect class="ob" x="1401" y="695.5" width="38" height="19"/><text class="bt" x="1420" y="711" textLength="36" lengthAdjust="spacingAndGlyphs">Q13e</text></g>
<g id="Q12a"><rect class="ob" x="1401" y="732.5" width="38" height="19"/><text class="bt" x="1420" y="748" textLength="36" lengthAdjust="spacingAndGlyphs">Q12a</text></g>
<g id="Q12b"><rect class="ob" x="1401" y="765.5" width="38" height="19"/><text class="bt" x="1420" y="781" textLength="36" lengthAdjust="spacingAndGlyphs">Q12b</text></g>
<g id="Q12c"><rect class="ob" x="1401" y="800.5" width="38" height="19"/><text class="bt" x="1420" y="816" textLength="36" lengthAdjust="spacingAndGlyphs">Q12c</text></g>
<g id="Q12d"><rect class="ob" x="1401" y="834.5" width="38" height="19"/><text class="bt" x="1420" y="850" textLength="36" lengthAdjust="spacingAndGlyphs">Q12d</text></g>
<g id="Q12e"><rect class="ob" x="1401" y="868.5" width="38" height="19"/><text class="bt" x="1420" y="884" textLength="36" lengthAdjust="spacingAndGlyphs">Q12e</text></g>

<g id="err3a"><circle class="er" cx="38" cy="19" r="10"/><text class="et" x="38" y="24">3a</text></g>
<g id="err3b"><circle class="er" cx="85" cy="19" r="10"/><text class="et" x="85" y="24">3b</text></g>
<g id="err3c"><circle class="er" cx="133" cy="19" r="10"/><text class="et" x="133" y="24">3c</text></g>
<g id="err3d"><circle class="er" cx="181" cy="19" r="10"/><text class="et" x="181" y="24">3d</text></g>
<g id="err3e"><circle class="er" cx="228" cy="19" r="10"/><text class="et" x="228" y="24">3e</text></g>
<g id="err4a"><circle class="er" cx="280" cy="19" r="10"/><text class="et" x="280" y="24">4a</text></g>
<g id="err4b"><circle class="er" cx="327" cy="19" r="10"/><text class="et" x="327" y="24">4b</text></g>
<g id="err4c"><circle class="er" cx="375" cy="19" r="10"/><text class="et" x="375" y="24">4c</text></g>
<g id="err4d"><circle class="er" cx="423" cy="19" r="10"/><text class="et" x="423" y="24">4d</text></g>
<g id="err4e"><circle class="er" cx="470" cy="19" r="10"/><text class="et" x="470" y="24">4e</text></g>
<g id="err5a"><circle class="er" cx="520" cy="19" r="10"/><text class="et" x="520" y="24">5a</text></g>
<g id="err5b"><circle class="er" cx="567" cy="19" r="10"/><text class="et" x="567" y="24">5b</text></g>
<g id="err5c"><circle class="er" cx="615" cy="19" r="10"/><text class="et" x="615" y="24">5c</text></g>
<g id="err5d"><circle class="er" cx="663" cy="19" r="10"/><text class="et" x="663" y="24">5d</text></g>
<g id="err5e"><circle class="er" cx="711" cy="19" r="10"/><text class="et" x="711" y="24">5e</text></g>
<g id="err17a"><circle class="er" cx="783" cy="19" r="10"/><text class="et" x="783" y="24" textLength="20" lengthAdjust="spacingAndGlyphs">17a</text></g>
<g id="err17b"><circle class="er" cx="830" cy="19" r="10"/><text class="et" x="830" y="24" textLength="20" lengthAdjust="spacingAndGlyphs">17b</text></g>
<g id="err17c"><circle class="er" cx="878" cy="19" r="10"/><text class="et" x="878" y="24" textLength="20" lengthAdjust="spacingAndGlyphs">17c</text></g>
<g id="err17d"><circle class="er" cx="926" cy="19" r="10"/><text class="et" x="926" y="24" textLength="20" lengthAdjust="spacingAndGlyphs">17d</text></g>
<g id="err17e"><circle class="er" cx="975" cy="19" r="10"/><text class="et" x="975" y="24" textLength="20" lengthAdjust="spacingAndGlyphs">17e</text></g>
<g id="err16a"><circle class="er" cx="1024" cy="19" r="10"/><text class="et" x="1024" y="24" textLength="20" lengthAdjust="spacingAndGlyphs">16a</text></g>
<g id="err16b"><circle class="er" cx="1071" cy="19" r="10"/><text class="et" x="1071" y="24" textLength="20" lengthAdjust="spacingAndGlyphs">16b</text></g>
<g id="err16c"><circle class="er" cx="1120" cy="19" r="10"/><text class="et" x="1120" y="24" textLength="20" lengthAdjust="spacingAndGlyphs">16c</text></g>
<g id="err16d"><circle class="er" cx="1168" cy="19" r="10"/><text class="et" x="1168" y="24" textLength="20" lengthAdjust="spacingAndGlyphs">16d</text></g>
<g id="err16e"><circle class="er" cx="1216" cy="19" r="10"/><text class="et" x="1216" y="24" textLength="20" lengthAdjust="spacingAndGlyphs">16e</text></g>
<g id="err15a"><circle class="er" cx="1266" cy="19" r="10"/><text class="et" x="1266" y="24" textLength="20" lengthAdjust="spacingAndGlyphs">15a</text></g>
<g id="err15b"><circle class="er" cx="1313" cy="19" r="10"/><text class="et" x="1313" y="24" textLength="20" lengthAdjust="spacingAndGlyphs">15b</text></g>
<g id="err15c"><circle class="er" cx="1361" cy="19" r="10"/><text class="et" x="1361" y="24" textLength="20" lengthAdjust="spacingAndGlyphs">15c</text></g>
<g id="err15d"><circle class="er" cx="1409" cy="19" r="10"/><text class="et" x="1409" y="24" textLength="20" lengthAdjust="spacingAndGlyphs">15d</text></g>
<g id="err15e"><circle class="er" cx="1457" cy="19" r="10"/><text class="et" x="1457" y="24" textLength="20" lengthAdjust="spacingAndGlyphs">15e</text></g>

<g id="err21a"><circle class="er" cx="40" cy="1056" r="10"/><text class="et" x="40" y="1061" textLength="20" lengthAdjust="spacingAndGlyphs">21a</text></g>
<g id="err21b"><circle class="er" cx="88" cy="1056" r="10"/><text class="et" x="88" y="1061" textLength="20" lengthAdjust="spacingAndGlyphs">21b</text></g>
<g id="err21c"><circle class="er" cx="136" cy="1056" r="10"/><text class="et" x="136" y="1061" textLength="20" lengthAdjust="spacingAndGlyphs">21c</text></g>
<g id="err21d"><circle class="er" cx="183" cy="1056" r="10"/><text class="et" x="183" y="1061" textLength="20" lengthAdjust="spacingAndGlyphs">21d</text></g>
<g id="err21e"><circle class="er" cx="231" cy="1056" r="10"/><text class="et" x="231" y="1061" textLength="20" lengthAdjust="spacingAndGlyphs">21e</text></g>
<g id="err22a"><circle class="er" cx="286" cy="1056" r="10"/><text class="et" x="286" y="1061" textLength="20" lengthAdjust="spacingAndGlyphs">22a</text></g>
<g id="err22b"><circle class="er" cx="334" cy="1056" r="10"/><text class="et" x="334" y="1061" textLength="20" lengthAdjust="spacingAndGlyphs">22b</text></g>
<g id="err22c"><circle class="er" cx="382" cy="1056" r="10"/><text class="et" x="382" y="1061" textLength="20" lengthAdjust="spacingAndGlyphs">22c</text></g>
<g id="err22d"><circle class="er" cx="430" cy="1056" r="10"/><text class="et" x="430" y="1061" textLength="20" lengthAdjust="spacingAndGlyphs">22d</text></g>
<g id="err22e"><circle class="er" cx="477" cy="1056" r="10"/><text class="et" x="477" y="1061" textLength="20" lengthAdjust="spacingAndGlyphs">22e</text></g>
<g id="err23a"><circle class="er" cx="530" cy="1056" r="10"/><text class="et" x="530" y="1061" textLength="20" lengthAdjust="spacingAndGlyphs">23a</text></g>
<g id="err23b"><circle class="er" cx="578" cy="1056" r="10"/><text class="et" x="578" y="1061" textLength="20" lengthAdjust="spacingAndGlyphs">23b</text></g>
<g id="err23c"><circle class="er" cx="627" cy="1056" r="10"/><text class="et" x="627" y="1061" textLength="20" lengthAdjust="spacingAndGlyphs">23c</text></g>
<g id="err23d"><circle class="er" cx="675" cy="1056" r="10"/><text class="et" x="675" y="1061" textLength="20" lengthAdjust="spacingAndGlyphs">23d</text></g>
<g id="err23e"><circle class="er" cx="722" cy="1056" r="10"/><text class="et" x="722" y="1061" textLength="20" lengthAdjust="spacingAndGlyphs">23e</text></g>
<g id="err11a"><circle class="er" cx="803" cy="1056" r="10"/><text class="et" x="803" y="1061" textLength="20" lengthAdjust="spacingAndGlyphs">11a</text></g>
<g id="err11b"><circle class="er" cx="851" cy="1056" r="10"/><text class="et" x="851" y="1061" textLength="20" lengthAdjust="spacingAndGlyphs">11b</text></g>
<g id="err11c"><circle class="er" cx="899" cy="1056" r="10"/><text class="et" x="899" y="1061" textLength="20" lengthAdjust="spacingAndGlyphs">11c</text></g>
<g id="err11d"><circle class="er" cx="947" cy="1056" r="10"/><text class="et" x="947" y="1061" textLength="20" lengthAdjust="spacingAndGlyphs">11d</text></g>
<g id="err11e"><circle class="er" cx="995" cy="1056" r="10"/><text class="et" x="995" y="1061" textLength="20" lengthAdjust="spacingAndGlyphs">11e</text></g>
<g id="err10a"><circle class="er" cx="1049" cy="1056" r="10"/><text class="et" x="1049" y="1061" textLength="20" lengthAdjust="spacingAndGlyphs">10a</text></g>
<g id="err10b"><circle class="er" cx="1097" cy="1056" r="10"/><text class="et" x="1097" y="1061" textLength="20" lengthAdjust="spacingAndGlyphs">10b</text></g>
<g id="err10c"><circle class="er" cx="1145" cy="1056" r="10"/><text class="et" x="1145" y="1061" textLength="20" lengthAdjust="spacingAndGlyphs">10c</text></g>
<g id="err10d"><circle class="er" cx="1193" cy="1056" r="10"/><text class="et" x="1193" y="1061" textLength="20" lengthAdjust="spacingAndGlyphs">10d</text></g>
<g id="err10e"><circle class="er" cx="1241" cy="1056" r="10"/><text class="et" x="1241" y="1061" textLength="20" lengthAdjust="spacingAndGlyphs">10e</text></g>
<g id="err9a"><circle class="er" cx="1294" cy="1056" r="10"/><text class="et" x="1294" y="1061">9a</text></g>
<g id="err9b"><circle class="er" cx="1342" cy="1056" r="10"/><text class="et" x="1342" y="1061">9b</text></g>
<g id="err9c"><circle class="er" cx="1391" cy="1056" r="10"/><text class="et" x="1391" y="1061">9c</text></g>
<g id="err9d"><circle class="er" cx="1439" cy="1056" r="10"/><text class="et" x="1439" y="1061">9d</text></g>
<g id="err9e"><circle class="er" cx="1486" cy="1056" r="10"/><text class="et" x="1486" y="1061">9e</text></g>

<g id="err6a"><circle class="er" cx="30" cy="201" r="10"/><text class="et" x="30" y="206">6a</text></g>
<g id="err6b"><circle class="er" cx="30" cy="235" r="10"/><text class="et" x="30" y="240">6b</text></g>
<g id="err6c"><circle class="er" cx="30" cy="268" r="10"/><text class="et" x="30" y="273">6c</text></g>
<g id="err6d"><circle class="er" cx="30" cy="302" r="10"/><text class="et" x="30" y="307">6d</text></g>
<g id="err6e"><circle class="er" cx="30" cy="336" r="10"/><text class="et" x="30" y="341">6e</text></g>
<g id="err7a"><circle class="er" cx="30" cy="370" r="10"/><text class="et" x="30" y="375">7a</text></g>
<g id="err7b"><circle class="er" cx="30" cy="404" r="10"/><text class="et" x="30" y="409">7b</text></g>
<g id="err7c"><circle class="er" cx="30" cy="437" r="10"/><text class="et" x="30" y="442">7c</text></g>
<g id="err7d"><circle class="er" cx="30" cy="471" r="10"/><text class="et" x="30" y="476">7d</text></g>
<g id="err7e"><circle class="er" cx="30" cy="505" r="10"/><text class="et" x="30" y="510">7e</text></g>
<g id="err25a"><circle class="er" cx="31" cy="574" r="10"/><text class="et" x="31" y="579" textLength="20" lengthAdjust="spacingAndGlyphs">25a</text></g>
<g id="err25b"><circle class="er" cx="31" cy="607" r="10"/><text class="et" x="31" y="612" textLength="20" lengthAdjust="spacingAndGlyphs">25b</text></g>
<g id="err25c"><circle class="er" cx="31" cy="641" r="10"/><text class="et" x="31" y="646" textLength="20" lengthAdjust="spacingAndGlyphs">25c</text></g>
<g id="err25d"><circle class="er" cx="31" cy="675" r="10"/><text class="et" x="31" y="680" textLength="20" lengthAdjust="spacingAndGlyphs">25d</text></g>
<g id="err25e"><circle class="er" cx="31" cy="709" r="10"/><text class="et" x="31" y="714" textLength="20" lengthAdjust="spacingAndGlyphs">25e</text></g>
<g id="err24a"><circle class="er" cx="31" cy="743" r="10"/><text class="et" x="31" y="748" textLength="20" lengthAdjust="spacingAndGlyphs">24a</text></g>
<g id="err24b"><circle class="er" cx="31" cy="776" r="10"/><text class="et" x="31" y="781" textLength="20" lengthAdjust="spacingAndGlyphs">24b</text></g>
<g id="err24c"><circle class="er" cx="31" cy="810" r="10"/><text class="et" x="31" y="815" textLength="20" lengthAdjust="spacingAndGlyphs">24c</text></g>
<g id="err24d"><circle class="er" cx="31" cy="844" r="10"/><text class="et" x="31" y="849" textLength="20" lengthAdjust="spacingAndGlyphs">24d</text></g>
<g id="err24e"><circle class="er" cx="31" cy="878" r="10"/><text class="et" x="31" y="883" textLength="20" lengthAdjust="spacingAndGlyphs">24e</text></g>

<g id="err18a"><circle class="er" cx="1494" cy="197" r="10"/><text class="er12" x="1494" y="201">18a</text></g>
<g id="err18b"><circle class="er" cx="1494" cy="231" r="10"/><text class="er12" x="1494" y="235">18b</text></g>
<g id="err18c"><circle class="er" cx="1494" cy="265" r="10"/><text class="er12" x="1494" y="269">18c</text></g>
<g id="err18d"><circle class="er" cx="1494" cy="299" r="10"/><text class="er12" x="1494" y="303">18d</text></g>
<g id="err18e"><circle class="er" cx="1494" cy="333" r="10"/><text class="er12" x="1494" y="337">18e</text></g>
<g id="err19a"><circle class="er" cx="1494" cy="369" r="10"/><text class="er12" x="1494" y="373">19a</text></g>
<g id="err19b"><circle class="er" cx="1494" cy="403" r="10"/><text class="er12" x="1494" y="407">19b</text></g>
<g id="err19c"><circle class="er" cx="1494" cy="437" r="10"/><text class="er12" x="1494" y="441">19c</text></g>
<g id="err19d"><circle class="er" cx="1494" cy="471" r="10"/><text class="er12" x="1494" y="475">19d</text></g>
<g id="err19e"><circle class="er" cx="1494" cy="505" r="10"/><text class="er12" x="1494" y="509">19e</text></g>
<g id="err13a"><circle class="er" cx="1494" cy="569" r="10"/><text class="er12" x="1494" y="573">13a</text></g>
<g id="err13b"><circle class="er" cx="1494" cy="603" r="10"/><text class="er12" x="1494" y="607">13b</text></g>
<g id="err13c"><circle class="er" cx="1494" cy="637" r="10"/><text class="er12" x="1494" y="641">13c</text></g>
<g id="err13d"><circle class="er" cx="1494" cy="671" r="10"/><text class="er12" x="1494" y="675">13d</text></g>
<g id="err13e"><circle class="er" cx="1494" cy="705" r="10"/><text class="er12" x="1494" y="709">13e</text></g>
<g id="err12a"><circle class="er" cx="1494" cy="742" r="10"/><text class="er12" x="1494" y="746">12a</text></g>
<g id="err12b"><circle class="er" cx="1494" cy="775" r="10"/><text class="er12" x="1494" y="779">12b</text></g>
<g id="err12c"><circle class="er" cx="1494" cy="810" r="10"/><text class="er12" x="1494" y="814">12c</text></g>
<g id="err12d"><circle class="er" cx="1494" cy="844" r="10"/><text class="er12" x="1494" y="848">12d</text></g>
<g id="err12e"><circle class="er" cx="1494" cy="878" r="10"/><text class="er12" x="1494" y="882">12e</text></g>
</svg>
